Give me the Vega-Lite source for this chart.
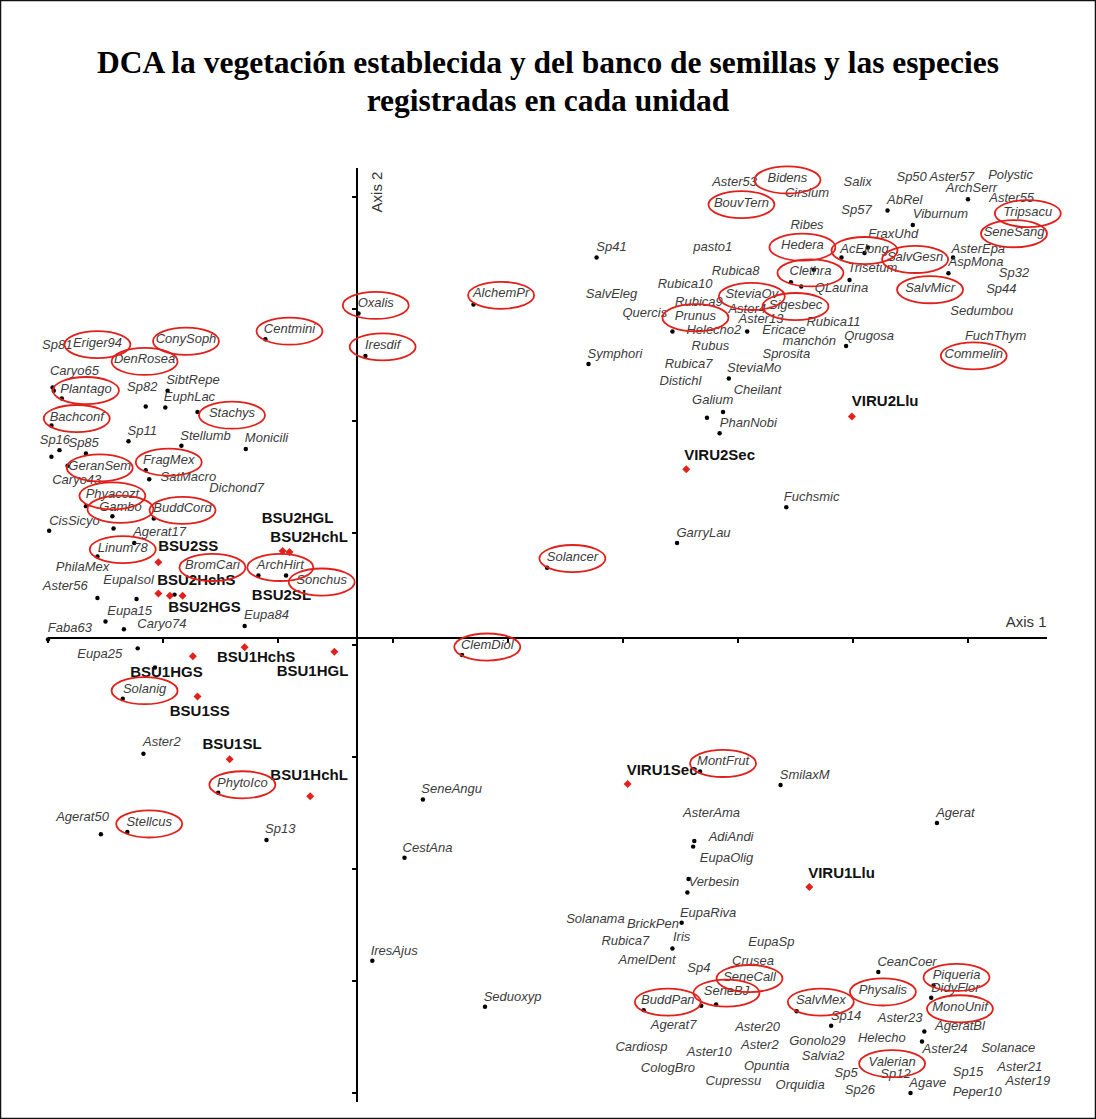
{
"$schema": "https://vega.github.io/schema/vega-lite/v6.json",
"width": 1096, "height": 1119,
"autosize": {"type": "none"},
"padding": 0,
"background": "white",
"config": {"view": {"stroke": "#111", "strokeWidth": 2.5}},
"title": {"text": ["DCA la vegetación establecida y del banco de semillas y las especies", "registradas en cada unidad"], "font": "Liberation Serif", "fontSize": 31.5, "fontWeight": "bold", "color": "#000", "anchor": "middle", "baseline": "alphabetic", "lineHeight": 38, "offset": -142},
"datasets": {
"species": [
{"n":"Sp81","x":8,"y":668},
{"n":"Eriger94","x":43,"y":670,"circled":true},
{"n":"ConySoph","x":120,"y":673,"circled":true},
{"n":"DenRosea","x":84,"y":655,"circled":true},
{"n":"Centmini","x":210,"y":682,"circled":true},
{"n":"Caryo65","x":23,"y":645},
{"n":"Plantago","x":33,"y":629,"circled":true},
{"n":"Sp82","x":82,"y":630},
{"n":"SibtRepe","x":126,"y":637},
{"n":"EuphLac","x":123,"y":621},
{"n":"Stachys","x":160,"y":607,"circled":true},
{"n":"Bachconf","x":25,"y":604,"circled":true},
{"n":"Sp11","x":82,"y":591},
{"n":"Stellumb","x":137,"y":587},
{"n":"Monicili","x":190,"y":585},
{"n":"Sp16","x":6,"y":583},
{"n":"Sp85","x":31,"y":580},
{"n":"GeranSem","x":45,"y":560,"circled":true},
{"n":"FragMex","x":105,"y":565,"circled":true},
{"n":"Caryo43","x":25,"y":547},
{"n":"SatMacro","x":122,"y":550},
{"n":"Dichond7","x":164,"y":540},
{"n":"Phyacozt","x":56,"y":535,"circled":true},
{"n":"Gambo","x":63,"y":523,"circled":true},
{"n":"BuddCord","x":117,"y":522,"circled":true},
{"n":"CisSicyo","x":23,"y":511},
{"n":"Agerat17","x":97,"y":501},
{"n":"Linum78","x":65,"y":487,"circled":true},
{"n":"PhilaMex","x":30,"y":470},
{"n":"BromCari","x":143,"y":471,"circled":true},
{"n":"ArchHirt","x":202,"y":471,"circled":true},
{"n":"Sonchus","x":238,"y":458,"circled":true},
{"n":"EupaIsol","x":70,"y":458},
{"n":"Aster56","x":15,"y":453},
{"n":"Eupa15","x":71,"y":430},
{"n":"Eupa84","x":190,"y":427},
{"n":"Caryo74","x":99,"y":419},
{"n":"Faba63","x":19,"y":415},
{"n":"Eupa25","x":45,"y":392},
{"n":"Solanig","x":84,"y":361,"circled":true},
{"n":"Aster2","x":99,"y":313},
{"n":"PhytoIco","x":169,"y":277,"circled":true},
{"n":"Agerat50","x":30,"y":246},
{"n":"Stellcus","x":88,"y":242,"circled":true},
{"n":"Sp13","x":202,"y":236},
{"n":"Oxalis","x":285,"y":705,"circled":true},
{"n":"Iresdif","x":291,"y":668,"circled":true},
{"n":"AlchemPr","x":394,"y":714,"circled":true},
{"n":"Sp41","x":490,"y":755},
{"n":"SalvEleg","x":490,"y":713},
{"n":"Quercis","x":519,"y":696},
{"n":"Symphori","x":493,"y":660},
{"n":"Solancer","x":456,"y":479,"circled":true},
{"n":"ClemDiol","x":382,"y":400,"circled":true},
{"n":"SeneAngu","x":351,"y":271},
{"n":"CestAna","x":330,"y":219},
{"n":"IresAjus","x":301,"y":127},
{"n":"Seduoxyp","x":404,"y":86},
{"n":"Rubica10","x":554,"y":722},
{"n":"Rubica8","x":598,"y":734},
{"n":"Rubica9","x":566,"y":706},
{"n":"Prunus","x":563,"y":694,"circled":true},
{"n":"SteviaOv","x":612,"y":713,"circled":true},
{"n":"Aster4","x":608,"y":700},
{"n":"Aster13","x":620,"y":691},
{"n":"Helecho2","x":579,"y":681},
{"n":"Rubus","x":576,"y":667},
{"n":"Rubica7","x":557,"y":651},
{"n":"SteviaMo","x":614,"y":647},
{"n":"Distichl","x":550,"y":636},
{"n":"Cheilant","x":617,"y":628},
{"n":"Galium","x":578,"y":619},
{"n":"PhanNobi","x":609,"y":598},
{"n":"pasto1","x":578,"y":755},
{"n":"Aster53","x":597,"y":813},
{"n":"Bidens","x":643,"y":817,"circled":true},
{"n":"Cirsium","x":660,"y":804},
{"n":"Salix","x":704,"y":813},
{"n":"Sp50","x":751,"y":818},
{"n":"Aster57","x":786,"y":818},
{"n":"Polystic","x":837,"y":820},
{"n":"ArchSerr","x":803,"y":808},
{"n":"AbRel","x":745,"y":797},
{"n":"Aster55","x":838,"y":799},
{"n":"BouvTern","x":603,"y":795,"circled":true},
{"n":"Sp57","x":703,"y":788},
{"n":"Viburnum","x":776,"y":785},
{"n":"Tripsacu","x":852,"y":787,"circled":true},
{"n":"Ribes","x":660,"y":775},
{"n":"FraxUhd","x":735,"y":767},
{"n":"SeneSang","x":840,"y":769,"circled":true},
{"n":"Hedera","x":656,"y":757,"circled":true},
{"n":"AcElong","x":710,"y":754,"circled":true},
{"n":"AsterEpa","x":809,"y":754},
{"n":"SalvGesn","x":754,"y":746,"circled":true},
{"n":"AspMona","x":807,"y":742},
{"n":"Clethra","x":663,"y":734,"circled":true},
{"n":"Trisetum","x":717,"y":737},
{"n":"Sp32","x":840,"y":732},
{"n":"QLaurina","x":690,"y":719},
{"n":"SalvMicr","x":767,"y":719,"circled":true},
{"n":"Sp44","x":829,"y":718},
{"n":"Sigesbec","x":650,"y":704,"circled":true},
{"n":"Sedumbou","x":812,"y":698},
{"n":"Rubica11","x":683,"y":688},
{"n":"Ericace","x":640,"y":681},
{"n":"Qrugosa","x":714,"y":676},
{"n":"manchón","x":662,"y":671},
{"n":"FuchThym","x":824,"y":676},
{"n":"Commelin","x":805,"y":660,"circled":true},
{"n":"Sprosita","x":642,"y":660},
{"n":"Fuchsmic","x":664,"y":532},
{"n":"GarryLau","x":570,"y":500},
{"n":"MontFrut","x":587,"y":296,"circled":true},
{"n":"SmilaxM","x":658,"y":284},
{"n":"AsterAma","x":577,"y":250},
{"n":"Agerat","x":789,"y":250},
{"n":"AdiAndi","x":594,"y":229},
{"n":"EupaOlig","x":590,"y":210},
{"n":"Verbesin","x":579,"y":188},
{"n":"EupaRiva","x":574,"y":161},
{"n":"Solanama","x":476,"y":155},
{"n":"BrickPen","x":526,"y":151},
{"n":"Rubica7","x":502,"y":136},
{"n":"Iris","x":551,"y":139},
{"n":"AmelDent","x":521,"y":119},
{"n":"Sp4","x":566,"y":112},
{"n":"EupaSp","x":629,"y":135},
{"n":"Crusea","x":613,"y":118},
{"n":"SeneCall","x":610,"y":104,"circled":true},
{"n":"SeneBJ","x":590,"y":91,"circled":true},
{"n":"BuddPan","x":539,"y":83,"circled":true},
{"n":"SalvMex","x":672,"y":83,"circled":true},
{"n":"Sp14","x":694,"y":69},
{"n":"Agerat7","x":544,"y":61},
{"n":"Aster20","x":617,"y":59},
{"n":"Cardiosp","x":516,"y":41},
{"n":"Aster10","x":575,"y":37},
{"n":"Aster2","x":619,"y":43},
{"n":"Gonolo29","x":669,"y":46},
{"n":"Salvia2","x":674,"y":33},
{"n":"CologBro","x":539,"y":22},
{"n":"Opuntia","x":625,"y":24},
{"n":"Cupressu","x":596,"y":11},
{"n":"Orquidia","x":654,"y":7},
{"n":"Sp5","x":694,"y":18},
{"n":"Sp26","x":706,"y":3},
{"n":"Helecho","x":725,"y":49},
{"n":"Aster23","x":741,"y":67},
{"n":"CeanCoer","x":747,"y":117},
{"n":"Physalis","x":726,"y":92,"circled":true},
{"n":"Piqueria","x":790,"y":105,"circled":true},
{"n":"DidyFlor","x":789,"y":94},
{"n":"MonoUnif","x":793,"y":77,"circled":true},
{"n":"AgeratBl","x":793,"y":60},
{"n":"Aster24","x":780,"y":39},
{"n":"Solanace","x":835,"y":40},
{"n":"Valerian","x":734,"y":28,"circled":true},
{"n":"Sp12","x":737,"y":17},
{"n":"Agave","x":765,"y":9},
{"n":"Sp15","x":800,"y":19},
{"n":"Aster21","x":845,"y":23},
{"n":"Aster19","x":852,"y":11},
{"n":"Peper10","x":808,"y":1}
],
"dots": [
{"x":4,"y":630},{"x":5,"y":627},{"x":12,"y":620},{"x":104,"y":627},{"x":85,"y":613},{"x":102,"y":612},{"x":130,"y":608},{"x":3,"y":596},{"x":70,"y":582},{"x":116,"y":578},{"x":172,"y":575},{"x":3,"y":568},{"x":10,"y":574},{"x":33,"y":571},{"x":189,"y":673},{"x":270,"y":696},{"x":276,"y":658},{"x":17,"y":560},{"x":85,"y":556},{"x":88,"y":548},{"x":33,"y":524},{"x":56,"y":515},{"x":92,"y":513},{"x":1,"y":502},{"x":57,"y":504},{"x":75,"y":491},{"x":43,"y":479},{"x":183,"y":462},{"x":207,"y":462},{"x":43,"y":442},{"x":77,"y":441},{"x":110,"y":445},{"x":50,"y":421},{"x":66,"y":414},{"x":171,"y":417},{"x":0,"y":405},{"x":78,"y":397},{"x":93,"y":380},{"x":65,"y":352},{"x":83,"y":303},{"x":148,"y":268},{"x":46,"y":231},{"x":69,"y":233},{"x":190,"y":226},{"x":477,"y":746},{"x":370,"y":704},{"x":470,"y":651},{"x":800,"y":798},{"x":730,"y":788},{"x":752,"y":775},{"x":690,"y":746},{"x":710,"y":750},{"x":713,"y":755},{"x":787,"y":746},{"x":783,"y":732},{"x":666,"y":735},{"x":646,"y":724},{"x":655,"y":720},{"x":697,"y":726},{"x":694,"y":667},{"x":608,"y":680},{"x":543,"y":680},{"x":592,"y":638},{"x":587,"y":608},{"x":573,"y":603},{"x":584,"y":589},{"x":642,"y":523},{"x":547,"y":491},{"x":434,"y":469},{"x":360,"y":391},{"x":326,"y":262},{"x":310,"y":210},{"x":282,"y":118},{"x":380,"y":77},{"x":567,"y":287},{"x":637,"y":275},{"x":773,"y":241},{"x":562,"y":225},{"x":561,"y":220},{"x":557,"y":191},{"x":556,"y":179},{"x":551,"y":152},{"x":543,"y":129},{"x":518,"y":74},{"x":568,"y":78},{"x":581,"y":79},{"x":651,"y":73},{"x":681,"y":60},{"x":722,"y":108},{"x":770,"y":96},{"x":768,"y":85},{"x":762,"y":55},{"x":760,"y":46},{"x":750,"y":0}
],
"sites": [
{"n":"VIRU2Llu","x":699,"y":604,"lx":728,"ly":618},
{"n":"VIRU2Sec","x":555,"y":557,"lx":584,"ly":570},
{"n":"VIRU1Sec","x":504,"y":276,"lx":534,"ly":288},
{"n":"VIRU1Llu","x":662,"y":184,"lx":690,"ly":196},
{"n":"BSU2SS","x":96,"y":474,"lx":122,"ly":488},
{"n":"BSU2HGL","x":204,"y":484,"lx":217,"ly":513},
{"n":"BSU2HchL","x":210,"y":483,"lx":227,"ly":496},
{"n":"BSU2HchS","x":96,"y":446,"lx":129,"ly":458},
{"n":"BSU2HGS","x":106,"y":444,"lx":136,"ly":434},
{"n":"BSU2SL","x":117,"y":444,"lx":203,"ly":445},
{"n":"BSU1HchS","x":171,"y":398,"lx":181,"ly":389},
{"n":"BSU1HGS","x":126,"y":390,"lx":103,"ly":376},
{"n":"BSU1HGL","x":249,"y":394,"lx":230,"ly":377},
{"n":"BSU1SS","x":130,"y":354,"lx":132,"ly":341},
{"n":"BSU1SL","x":158,"y":298,"lx":160,"ly":312},
{"n":"BSU1HchL","x":228,"y":265,"lx":227,"ly":284}
],
"ticks": [{"v":0},{"v":100},{"v":200},{"v":300},{"v":400},{"v":500},{"v":600},{"v":700},{"v":800}]
},
"layer": [
{"data": {"values": [{}]}, "mark": {"type": "rule", "color": "#000", "strokeWidth": 2},
 "encoding": {"x": {"datum": 0, "type": "quantitative", "scale": {"domain": [-41.74, 911.3], "nice": false, "zero": false}, "axis": null},
  "x2": {"datum": 868.7},
  "y": {"datum": 406.25, "type": "quantitative", "scale": {"domain": [-23.2, 975.9], "nice": false, "zero": false}, "axis": null}}},
{"data": {"values": [{}]}, "mark": {"type": "rule", "color": "#000", "strokeWidth": 2},
 "encoding": {"x": {"datum": 268.7, "type": "quantitative", "scale": {"domain": [-41.74, 911.3], "nice": false, "zero": false}, "axis": null},
  "y": {"datum": 825.9, "type": "quantitative", "scale": {"domain": [-23.2, 975.9], "nice": false, "zero": false}, "axis": null},
  "y2": {"datum": -8}}},
{"data": {"name": "ticks"}, "mark": {"type": "rule", "color": "#000", "strokeWidth": 2},
 "encoding": {"x": {"field": "v", "type": "quantitative", "scale": {"domain": [-41.74, 911.3], "nice": false, "zero": false}, "axis": null},
  "y": {"datum": 406.25, "type": "quantitative", "scale": {"domain": [-23.2, 975.9], "nice": false, "zero": false}, "axis": null},
  "y2": {"datum": 401.8}}},
{"data": {"name": "ticks"}, "mark": {"type": "rule", "color": "#000", "strokeWidth": 2},
 "encoding": {"y": {"field": "v", "type": "quantitative", "scale": {"domain": [-23.2, 975.9], "nice": false, "zero": false}, "axis": null},
  "x": {"datum": 268.7, "type": "quantitative", "scale": {"domain": [-41.74, 911.3], "nice": false, "zero": false}, "axis": null},
  "x2": {"datum": 264.4}}},
{"data": {"name": "dots"}, "mark": {"type": "point", "shape": "circle", "filled": true, "color": "#000", "size": 20, "opacity": 1},
 "encoding": {"x": {"field": "x", "type": "quantitative", "scale": {"domain": [-41.74, 911.3], "nice": false, "zero": false}, "axis": null},
  "y": {"field": "y", "type": "quantitative", "scale": {"domain": [-23.2, 975.9], "nice": false, "zero": false}, "axis": null}}},
{"data": {"name": "sites"}, "mark": {"type": "point", "shape": "diamond", "filled": true, "color": "#e3211c", "size": 64, "opacity": 1},
 "encoding": {"x": {"field": "x", "type": "quantitative", "scale": {"domain": [-41.74, 911.3], "nice": false, "zero": false}, "axis": null},
  "y": {"field": "y", "type": "quantitative", "scale": {"domain": [-23.2, 975.9], "nice": false, "zero": false}, "axis": null}}},
{"data": {"name": "species"}, "mark": {"type": "text", "font": "Liberation Sans", "fontStyle": "italic", "fontSize": 13, "color": "#3c3c3c", "align": "center", "baseline": "middle"},
 "encoding": {"x": {"field": "x", "type": "quantitative", "scale": {"domain": [-41.74, 911.3], "nice": false, "zero": false}, "axis": null},
  "y": {"field": "y", "type": "quantitative", "scale": {"domain": [-23.2, 975.9], "nice": false, "zero": false}, "axis": null},
  "text": {"field": "n"}}},
{"data": {"name": "sites"}, "mark": {"type": "text", "font": "Liberation Sans", "fontWeight": "bold", "fontSize": 15, "color": "#111", "align": "center", "baseline": "middle"},
 "encoding": {"x": {"field": "lx", "type": "quantitative", "scale": {"domain": [-41.74, 911.3], "nice": false, "zero": false}, "axis": null},
  "y": {"field": "ly", "type": "quantitative", "scale": {"domain": [-23.2, 975.9], "nice": false, "zero": false}, "axis": null},
  "text": {"field": "n"}}},
{"data": {"values": [{}]}, "mark": {"type": "text", "font": "Liberation Sans", "fontSize": 15, "color": "#333", "align": "center", "baseline": "middle"},
 "encoding": {"x": {"datum": 850.5, "type": "quantitative", "scale": {"domain": [-41.74, 911.3], "nice": false, "zero": false}, "axis": null},
  "y": {"datum": 420.6, "type": "quantitative", "scale": {"domain": [-23.2, 975.9], "nice": false, "zero": false}, "axis": null},
  "text": {"value": "Axis 1"}}},
{"data": {"values": [{}]}, "mark": {"type": "text", "font": "Liberation Sans", "fontSize": 15, "color": "#333", "align": "center", "baseline": "middle", "angle": 270},
 "encoding": {"x": {"datum": 286.1, "type": "quantitative", "scale": {"domain": [-41.74, 911.3], "nice": false, "zero": false}, "axis": null},
  "y": {"datum": 804.5, "type": "quantitative", "scale": {"domain": [-23.2, 975.9], "nice": false, "zero": false}, "axis": null},
  "text": {"value": "Axis 2"}}},
{"data": {"name": "species"}, "transform": [{"filter": "datum.circled"}],
 "mark": {"type": "point", "shape": "M-1,0A1,0.41,0,1,1,1,0A1,0.41,0,1,1,-1,0Z", "filled": false, "color": "#e0201b", "strokeWidth": 1.8, "size": 4356, "opacity": 1, "yOffset": 2},
 "encoding": {"x": {"field": "x", "type": "quantitative", "scale": {"domain": [-41.74, 911.3], "nice": false, "zero": false}, "axis": null},
  "y": {"field": "y", "type": "quantitative", "scale": {"domain": [-23.2, 975.9], "nice": false, "zero": false}, "axis": null}}}
]
}
